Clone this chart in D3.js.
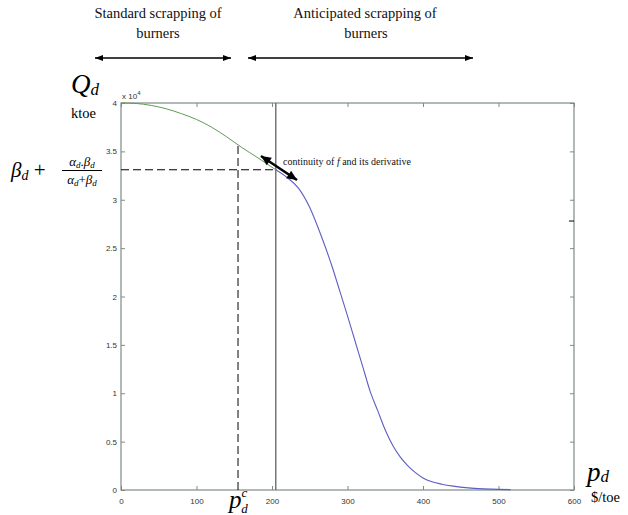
<!DOCTYPE html>
<html>
<head>
<meta charset="utf-8">
<script src="https://cdn.jsdelivr.net/npm/d3@7"></script>
<style>
    body { margin: 0; background: #fff; }
    svg { display: block; }
    .tick text { font-family: Arial, "Liberation Sans", sans-serif; font-size: 8px; fill: #333; }
</style>
</head>
<body>
<div id="chart"></div>
<script>
// price ($/toe) and demand (x 10^4 ktoe), standard scrapping part
const stdPrice = [0, 20, 40, 60, 80, 100, 120, 140, 160, 180, 205];
const stdDemand = [4.0, 3.995, 3.975, 3.94, 3.89, 3.83, 3.75, 3.65, 3.54, 3.44, 3.31];

// anticipated scrapping part
const antPrice = [205, 220, 235, 250, 265, 280, 290, 300, 310, 320, 330, 340, 350, 360, 370, 380, 390, 400, 410, 425, 440, 460, 480, 500, 516];
const antDemand = [3.31, 3.23, 3.12, 2.92, 2.63, 2.3, 2.05, 1.8, 1.54, 1.28, 1.02, 0.82, 0.62, 0.46, 0.34, 0.25, 0.18, 0.125, 0.09, 0.06, 0.04, 0.022, 0.012, 0.006, 0.004];

const xTicks = [0, 100, 200, 300, 400, 500, 600];
const yTicks = [0, 0.5, 1, 1.5, 2, 2.5, 3, 3.5, 4];

const switchPrice = 205;   // boundary between the two regimes
const switchDemand = 3.31; // beta_d + alpha_d.beta_d/(alpha_d+beta_d)
const criticalPrice = 155; // p_d^c
const criticalDemand = 3.56;

const width = 628;
const height = 515;
const serif = '"Liberation Serif", "Times New Roman", serif';

const svg = d3
    .select('#chart')
    .append('svg')
    .attr('width', width)
    .attr('height', height);

const x = d3.scaleLinear().domain([0, 600]).range([121, 574]);
const y = d3.scaleLinear().domain([0, 4]).range([490, 103]);

const axisColor = '#7f8b89';

// box + ticks (matlab style, ticks pointing inwards)
function styleAxis(g) {
    g.select('.domain').remove();
    g.selectAll('.tick line').attr('stroke', axisColor);
}

svg.append('g')
    .attr('transform', 'translate(0,' + y(0) + ')')
    .call(d3.axisBottom(x).tickValues(xTicks).tickSizeInner(-4).tickSizeOuter(0).tickPadding(8).tickFormat(d => String(d)))
    .call(styleAxis);

svg.append('g')
    .attr('transform', 'translate(0,' + y(4) + ')')
    .call(d3.axisTop(x).tickValues(xTicks).tickSizeInner(-4).tickSizeOuter(0).tickFormat(''))
    .call(styleAxis);

svg.append('g')
    .attr('transform', 'translate(' + x(0) + ',0)')
    .call(d3.axisLeft(y).tickValues(yTicks).tickSizeInner(-4).tickSizeOuter(0).tickPadding(4).tickFormat(d => String(d)))
    .call(styleAxis);

svg.append('g')
    .attr('transform', 'translate(' + x(600) + ',0)')
    .call(d3.axisRight(y).tickValues(yTicks).tickSizeInner(-4).tickSizeOuter(0).tickFormat(''))
    .call(styleAxis);

svg.append('rect')
    .attr('x', x(0))
    .attr('y', y(4))
    .attr('width', x(600) - x(0))
    .attr('height', y(0) - y(4))
    .attr('fill', 'none')
    .attr('stroke', axisColor)
    .attr('stroke-width', 1.2);

// stray black tick on the right edge
svg.append('line')
    .attr('x1', x(600) - 5).attr('x2', x(600))
    .attr('y1', y(2.78)).attr('y2', y(2.78))
    .attr('stroke', '#000');

svg.append('text')
    .attr('x', x(0) + 1)
    .attr('y', y(4) - 4)
    .attr('font-family', 'Arial, sans-serif')
    .attr('font-size', 8)
    .attr('fill', '#333')
    .html('x 10<tspan dy="-4" font-size="6">4</tspan>');

// regime boundary and guide lines
svg.append('line')
    .attr('x1', x(switchPrice)).attr('x2', x(switchPrice))
    .attr('y1', y(0)).attr('y2', y(4))
    .attr('stroke', '#6b6f6e')
    .attr('stroke-width', 1.4);

svg.append('line')
    .attr('x1', x(0)).attr('x2', x(switchPrice))
    .attr('y1', y(switchDemand)).attr('y2', y(switchDemand))
    .attr('stroke', '#000')
    .attr('stroke-dasharray', '8,4');

svg.append('line')
    .attr('x1', x(criticalPrice)).attr('x2', x(criticalPrice))
    .attr('y1', y(0)).attr('y2', y(criticalDemand))
    .attr('stroke', '#000')
    .attr('stroke-dasharray', '8,4');

// curves
const line = d3.line().curve(d3.curveMonotoneX);

svg.append('path')
    .attr('d', line(stdPrice.map((p, i) => [x(p), y(stdDemand[i])])))
    .attr('fill', 'none')
    .attr('stroke', '#5f9c55')
    .attr('stroke-width', 1);

svg.append('path')
    .attr('d', line(antPrice.map((p, i) => [x(p), y(antDemand[i])])))
    .attr('fill', 'none')
    .attr('stroke', '#5c5fc4')
    .attr('stroke-width', 1.1);

// double headed arrows
function doubleArrow(x1, y1, x2, y2, lw, headLen, headW) {
    svg.append('line')
        .attr('x1', x1).attr('y1', y1).attr('x2', x2).attr('y2', y2)
        .attr('stroke', '#000')
        .attr('stroke-width', lw);
    const ang = Math.atan2(y2 - y1, x2 - x1);
    [[x1, y1, ang + Math.PI], [x2, y2, ang]].forEach(function (h) {
        const tx = h[0], ty = h[1], a = h[2];
        const bx = tx - headLen * Math.cos(a), by = ty - headLen * Math.sin(a);
        const nx = -Math.sin(a) * headW / 2, ny = Math.cos(a) * headW / 2;
        svg.append('path')
            .attr('d', 'M' + tx + ',' + ty + 'L' + (bx + nx) + ',' + (by + ny) + 'L' + (bx - nx) + ',' + (by - ny) + 'Z')
            .attr('fill', '#000');
    });
}

doubleArrow(95, 58, 231, 58, 1.3, 8, 6);
doubleArrow(248, 58, 473, 58, 1.3, 8, 6);
doubleArrow(261, 156, 297, 180, 2.4, 10, 9);

// header labels
function serifText(g, xPos, yPos, size, str) {
    return g.append('text')
        .attr('x', xPos)
        .attr('y', yPos)
        .attr('font-family', serif)
        .attr('font-size', size)
        .text(str);
}

const header = svg.append('g').attr('text-anchor', 'middle').attr('fill', '#111');
serifText(header, 158, 18, 14.5, 'Standard scrapping of');
serifText(header, 158, 38, 14.5, 'burners');
serifText(header, 365, 18, 14.5, 'Anticipated scrapping of');
serifText(header, 366, 38, 14.5, 'burners');

svg.append('text')
    .attr('x', 283)
    .attr('y', 165)
    .attr('font-family', serif)
    .attr('font-size', 10)
    .attr('fill', '#111')
    .html('continuity of <tspan font-style="italic">f</tspan> and its derivative');

// math labels
const math = svg.append('g').attr('fill', '#000');

math.append('text')
    .attr('x', 71).attr('y', 93)
    .attr('font-family', serif)
    .attr('font-size', 27)
    .attr('font-style', 'italic')
    .html('Q<tspan font-size="17" dy="2">d</tspan>');
serifText(math, 71, 118, 14.5, 'ktoe');

math.append('text')
    .attr('x', 11).attr('y', 177)
    .attr('font-family', serif)
    .attr('font-size', 21)
    .html('<tspan font-style="italic">β</tspan><tspan font-style="italic" font-size="14" dy="3">d</tspan><tspan dy="-3"> +</tspan>');
math.append('text')
    .attr('x', 82).attr('y', 166)
    .attr('text-anchor', 'middle')
    .attr('font-family', serif)
    .attr('font-size', 13)
    .attr('font-style', 'italic')
    .html('α<tspan font-size="9" dy="2">d</tspan><tspan dy="-2" font-style="normal">.</tspan>β<tspan font-size="9" dy="2">d</tspan>');
math.append('line')
    .attr('x1', 62).attr('x2', 102)
    .attr('y1', 170.5).attr('y2', 170.5)
    .attr('stroke', '#000');
math.append('text')
    .attr('x', 82).attr('y', 184)
    .attr('text-anchor', 'middle')
    .attr('font-family', serif)
    .attr('font-size', 13)
    .attr('font-style', 'italic')
    .html('α<tspan font-size="9" dy="2">d</tspan><tspan dy="-2" font-style="normal">+</tspan>β<tspan font-size="9" dy="2">d</tspan>');

math.append('text')
    .attr('x', 587).attr('y', 481)
    .attr('font-family', serif)
    .attr('font-size', 27)
    .attr('font-style', 'italic')
    .html('p<tspan font-size="17" dy="1">d</tspan>');
serifText(math, 591, 502, 14.5, '$/toe');

math.append('text')
    .attr('x', 229).attr('y', 508)
    .attr('font-family', serif)
    .attr('font-size', 25)
    .attr('font-style', 'italic')
    .html('p<tspan font-size="13" dy="-11">c</tspan><tspan font-size="13" dx="-6" dy="16">d</tspan>');
</script>
</body>
</html>
